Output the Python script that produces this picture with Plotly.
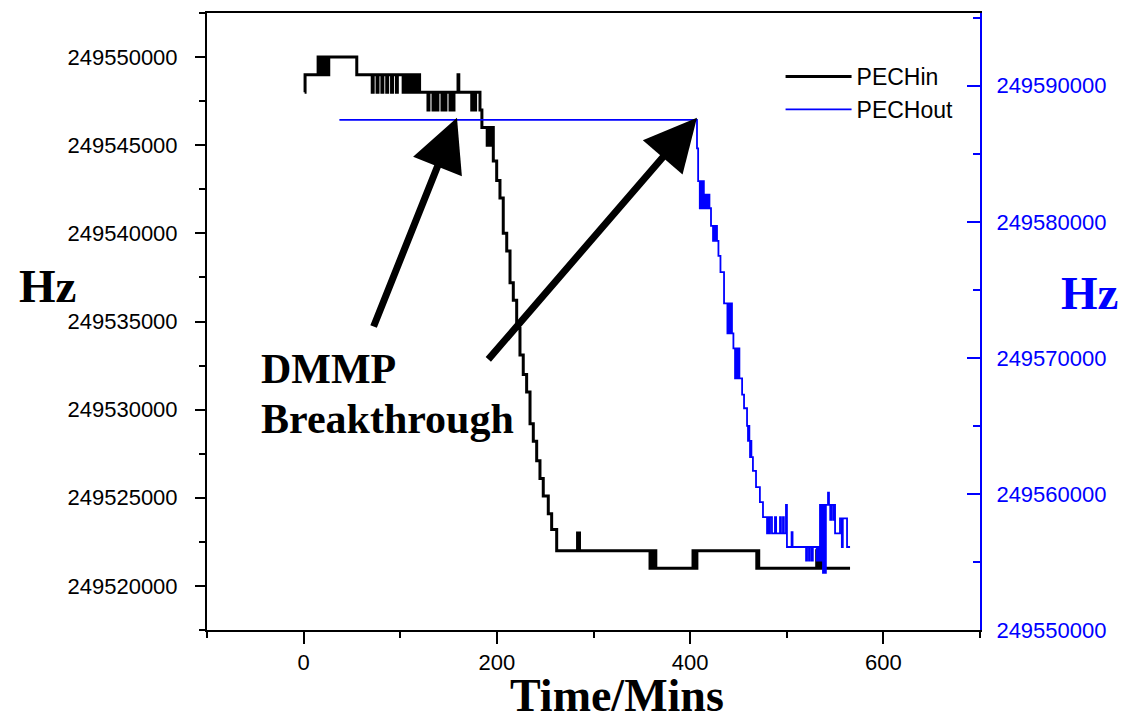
import plotly.graph_objects as go

# ---- data ----
pechin_time = [1, 1.5, 15, 16, 17, 18, 19, 20, 21, 22.5, 23.5, 25, 26, 55,
               71, 72, 76, 77, 81, 82, 86, 87, 91, 92, 96, 97,
               103, 104, 105, 106, 107.5, 108.5, 110, 111, 112.5, 113.5, 115, 116, 117, 118,
               120, 128.7, 129.7, 133.9, 134.9, 138, 139, 143.2, 144.2, 146.3, 147.3,
               151.5, 152.5, 154.6, 155.6, 159.8, 160.6, 174, 175, 177, 178,
               182.5, 184.5, 190, 191, 192, 193, 194, 195,
               196.3, 199.8, 203.2, 206.6, 210.2, 213.6, 217, 220.5, 223.9, 227.3,
               230.8, 234.3, 237.7, 241.2, 244.6, 248, 253.2, 256.7, 261.9,
               283.5, 285.5, 358.5, 359.5, 360.5, 361.5, 362.5, 363.5, 364.5,
               403, 404, 405, 406, 407, 469, 470, 471,
               531, 532, 533, 534, 535.5, 536.5, 565.5]
pechin_hz = [249548000, 249549000, 249550000, 249549000, 249550000, 249549000, 249550000,
             249549000, 249550000, 249549000, 249550000, 249549000, 249550000, 249549000,
             249548000, 249549000, 249548000, 249549000, 249548000, 249549000, 249548000,
             249549000, 249548000, 249549000, 249548000, 249549000,
             249548000, 249549000, 249548000, 249549000, 249548000, 249549000, 249548000,
             249549000, 249548000, 249549000, 249548000, 249549000, 249548000, 249549000,
             249548000, 249547000, 249548000, 249547000, 249548000, 249547000, 249548000,
             249547000, 249548000, 249547000, 249548000,
             249547000, 249548000, 249547000, 249548000, 249549000, 249548000, 249547000,
             249548000, 249547000, 249548000,
             249547000, 249546000, 249545000, 249546000, 249545000, 249546000, 249545000,
             249546000,
             249544100, 249543000, 249542000, 249540000, 249539000, 249537200, 249536200,
             249534600, 249533100, 249532000,
             249531000, 249529200, 249528200, 249527100, 249526100, 249525100, 249524100,
             249523200, 249522000,
             249523000, 249522000, 249521000, 249522000, 249521000, 249522000, 249521000,
             249522000, 249521000,
             249522000, 249521000, 249522000, 249521000, 249522000, 249521000, 249522000,
             249521000,
             249522000, 249521000, 249522000, 249521000, 249522000, 249521000, 249521000]

pechout_time = [37, 407.1, 408.3, 410, 410.7, 411.4, 412.1, 412.8, 413.5, 414.2,
                415, 416, 417, 418, 419, 420, 421.6, 423.7, 424.4, 425, 425.7, 426.4,
                427.1, 427.8, 429.3, 431.4, 435.1, 438.6, 439.3, 440, 440.7, 441.4,
                442.1, 443.3, 444.8, 446.5, 447.2, 448, 448.7, 449.5, 450.2, 451,
                453.8, 455.8, 458.9, 459.9, 460.6, 461.3, 462, 462.7, 463.4, 465,
                468.2, 472.2, 475.4, 479.6, 480.6, 481.7, 482.7, 484.7, 487.8, 489,
                493, 494, 496.1, 497, 499.2, 500.2, 505, 506, 520, 521, 523, 524,
                526, 527, 531, 532, 533.5, 534.4, 535.5, 536.5, 537.5, 538.5, 539.6,
                540.5, 542.7, 543.7, 545, 546, 548, 549, 550, 555.1, 557, 558,
                562.4, 565.5]
pechout_hz = [249587500, 249585400, 249583000, 249581000, 249583000, 249581000, 249583000,
              249581000, 249583000, 249581000,
              249582000, 249581000, 249582000, 249581000, 249582000, 249581000, 249579700,
              249578600, 249579700, 249578600, 249579700, 249578600,
              249579700, 249578600, 249577500, 249576300, 249574000, 249571800, 249574000,
              249571800, 249574000, 249571800,
              249574000, 249571800, 249570700, 249568500, 249570700, 249568500, 249570700,
              249568500, 249570700, 249568500,
              249567300, 249566300, 249565000, 249563900, 249565000, 249563900, 249562700,
              249563900, 249562700, 249561700,
              249560500, 249559400, 249558300, 249557100, 249558300, 249557100, 249558300,
              249557100, 249558300, 249557100,
              249558300, 249557100, 249558300, 249557100, 249559200, 249556100, 249557200,
              249556100, 249555100, 249556100, 249555100, 249556100,
              249555100, 249556100, 249555100, 249556100, 249555100, 249559200, 249555100,
              249559200, 249554200, 249559200, 249554200,
              249559200, 249560100, 249559200, 249558100, 249559200, 249558100, 249559200,
              249557100, 249558200, 249556100, 249558200,
              249556100, 249556100]

x_range = [-100, 700]
y_left_range = [249517500, 249552500]
y_right_range = [249550000, 249595350]

BLUE = "#0000FF"
SANS = "Liberation Sans, Arial, sans-serif"
SERIF = "Liberation Serif, Times New Roman, serif"

fig = go.Figure()
fig.add_trace(go.Scatter(x=pechin_time, y=pechin_hz, name="PECHin", mode="lines",
                         line=dict(color="black", width=3, shape="hv"), yaxis="y"))
fig.add_trace(go.Scatter(x=pechout_time, y=pechout_hz, name="PECHout", mode="lines",
                         line=dict(color=BLUE, width=1.8, shape="hv"), yaxis="y2"))

fig.update_layout(
    width=1144, height=720,
    margin=dict(l=207, r=164, t=11, b=90),
    paper_bgcolor="white", plot_bgcolor="white",
    showlegend=True,
    legend=dict(x=0.742, y=0.932, xanchor="left", yanchor="top",
                bgcolor="rgba(0,0,0,0)", font=dict(family=SANS, size=23, color="black"),
                itemwidth=66, tracegroupgap=0),
    xaxis=dict(range=x_range, showline=True, linecolor="black", linewidth=2,
               mirror=True, ticks="outside", ticklen=12, tickwidth=2, tickcolor="black",
               dtick=200, tick0=0, showgrid=False, zeroline=False,
               minor=dict(dtick=100, ticks="outside", ticklen=6, tickwidth=2,
                          tickcolor="black", showgrid=False),
               tickfont=dict(family=SANS, size=22, color="black")),
    yaxis=dict(range=y_left_range, showline=True, linecolor="black", linewidth=2,
               ticks="outside", ticklen=10, tickwidth=2, tickcolor="black",
               dtick=5000, tick0=249520000, tickformat="d", showgrid=False, zeroline=False,
               ticklabelstandoff=13,
               minor=dict(dtick=2500, ticks="outside", ticklen=6, tickwidth=2,
                          tickcolor="black", showgrid=False),
               tickfont=dict(family=SANS, size=22, color="black")),
    yaxis2=dict(range=y_right_range, overlaying="y", side="right", showline=True,
                linecolor=BLUE, linewidth=2, ticks="inside", ticklen=13, tickwidth=2,
                tickcolor=BLUE, dtick=10000, tick0=249550000, tickformat="d",
                showgrid=False, zeroline=False, ticklabelstandoff=10,
                minor=dict(dtick=5000, ticks="inside", ticklen=7, tickwidth=2,
                           tickcolor=BLUE, showgrid=False),
                tickfont=dict(family=SANS, size=22, color=BLUE)),
)

annotations = [
    dict(text="<b>Time/Mins</b>", x=0.530, y=-0.1066, xref="paper", yref="paper",
         showarrow=False, xanchor="center", yanchor="middle",
         font=dict(family=SERIF, size=46, color="black")),
    dict(text="<b>Hz</b>", x=-0.2057, y=0.557, xref="paper", yref="paper",
         showarrow=False, xanchor="center", yanchor="middle",
         font=dict(family=SERIF, size=47, color="black")),
    dict(text="<b>Hz</b>", x=1.1423, y=0.546, xref="paper", yref="paper",
         showarrow=False, xanchor="center", yanchor="middle",
         font=dict(family=SERIF, size=47, color=BLUE)),
    dict(text="<b>DMMP</b>", x=0.0676, y=0.423, xref="paper", yref="paper",
         showarrow=False, xanchor="left", yanchor="middle",
         font=dict(family=SERIF, size=42, color="black")),
    dict(text="<b>Breakthrough</b>", x=0.0676, y=0.3425, xref="paper", yref="paper",
         showarrow=False, xanchor="left", yanchor="middle",
         font=dict(family=SERIF, size=42, color="black")),
    dict(text="", x=158.7, y=249546563, xref="x", yref="y",
         ax=71.8, ay=249534633, axref="x", ayref="y",
         showarrow=True, arrowhead=2, arrowsize=1.5, arrowwidth=7, arrowcolor="black",
         standoff=0),
    dict(text="", x=407.1, y=249546563, xref="x", yref="y",
         ax=189.8, ay=249532767, axref="x", ayref="y",
         showarrow=True, arrowhead=2, arrowsize=1.5, arrowwidth=7, arrowcolor="black",
         standoff=0),
]
fig.update_layout(annotations=annotations)

fig.write_html("out.html")
